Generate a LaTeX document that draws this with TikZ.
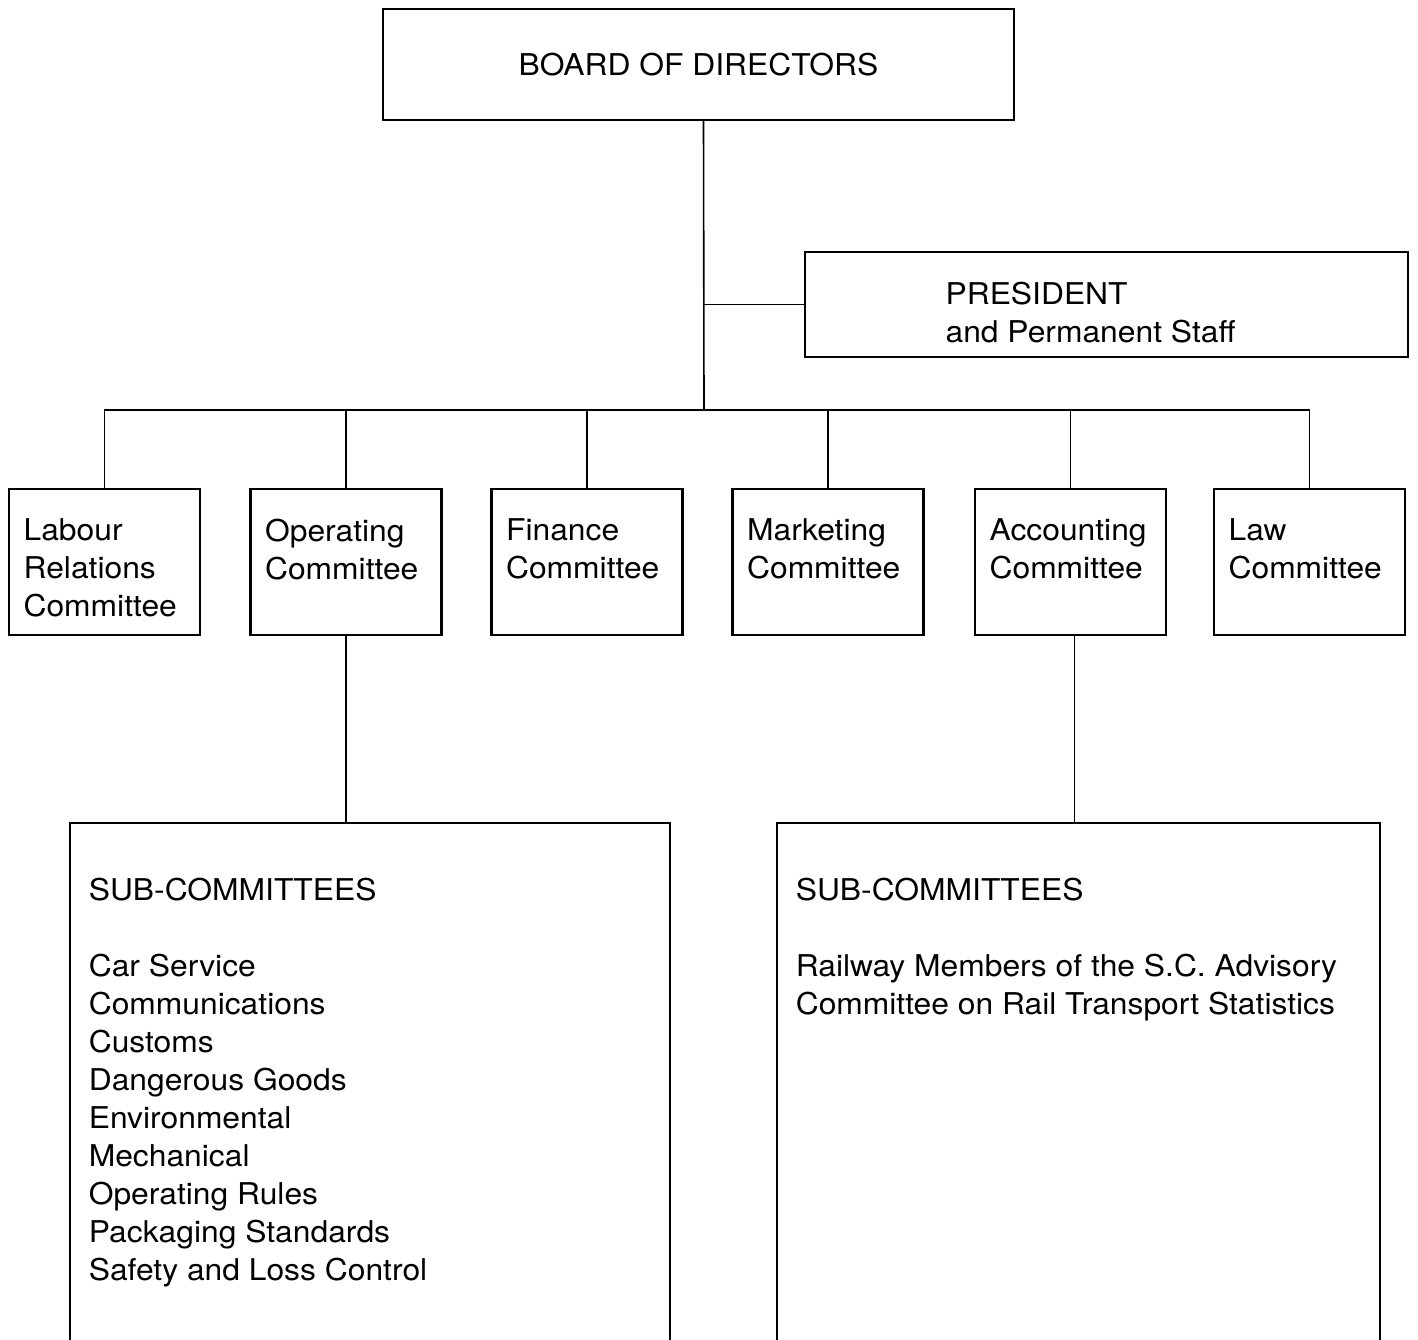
\documentclass[tikz,border=0pt]{standalone}
\usepackage{fontspec}
\setmainfont{TeX Gyre Heros}[FakeStretch=1.06]
\usepackage{tikz}

\begin{document}
\begin{tikzpicture}
            [x=0.5pt,y=-0.5pt,line width=0.8pt,
             every node/.style={font=\fontsize{15pt}{19pt}\selectfont},
             box/.style={draw,line width=1.2pt,inner sep=0pt},
             caption/.style={anchor=north west,align=left,inner sep=0pt,font=\fontsize{15pt}{19pt}\selectfont},
             committee/.style={box,minimum width=95.5pt,minimum height=73pt,
                label={[caption,xshift=7.5pt,yshift=-15pt]north west:#1}},
             subbox/.style={box,line width=1pt,minimum height=288.5pt,
                label={[caption,xshift=9.5pt,yshift=-27.5pt]north west:#1}}]
            \path[use as bounding box,clip] (0,0) rectangle (1418,1339);
            \node[box,minimum width=315.5pt,minimum height=55.5pt] (board) at (698.5,64.5) {BOARD OF DIRECTORS};
            \node[box,minimum width=301.5pt,minimum height=52.5pt,
                label={[caption,xshift=70.5pt,yshift=-15pt]north west:PRESIDENT\\and Permanent Staff}] (pres) at (1106.5,304.5) {};
            \node[committee={Labour\\Relations\\Committee}] (labour) at (104.5,562) {};
            \node[committee={Operating\\Committee}] (oper) at (346,562) {};
            \node[committee={Finance\\Committee}] (fin) at (587,562) {};
            \node[committee={Marketing\\Committee}] (mark) at (828,562) {};
            \node[committee={Accounting\\Committee}] (acc) at (1070.5,562) {};
            \node[committee={Law\\Committee}] (law) at (1309.5,562) {};
            \node[subbox={SUB-COMMITTEES\\[19pt]Car Service\\Communications\\Customs\\Dangerous Goods\\Environmental\\Mechanical\\Operating Rules\\Packaging Standards\\Safety and Loss Control},
                minimum width=300pt] (subops) at (370,1111.5) {};
            \node[subbox={SUB-COMMITTEES\\[19pt]Railway Members of the S.C. Advisory\\Committee on Rail Transport Statistics},
                minimum width=301.5pt] (subacc) at (1078.5,1111.5) {};
            \coordinate (hub) at (704,410);
            % trunk and staff branch
            \draw ([xshift=2.5pt]board.south) -- (hub);
            \draw (pres.west) -- (pres.west -| hub);
            % the committee bus
            \draw (labour.north) |- (hub) -| (law.north);
            \foreach \c in {oper,fin,mark,acc}
                \draw (\c.north) -- (\c.north |- hub);
            % sub-committees
            \draw (oper.south) -- (oper.south |- subops.north);
            \draw ([xshift=2pt]acc.south) -- ([xshift=2pt]acc.south |- subacc.north);
        \end{tikzpicture}
\end{document}
